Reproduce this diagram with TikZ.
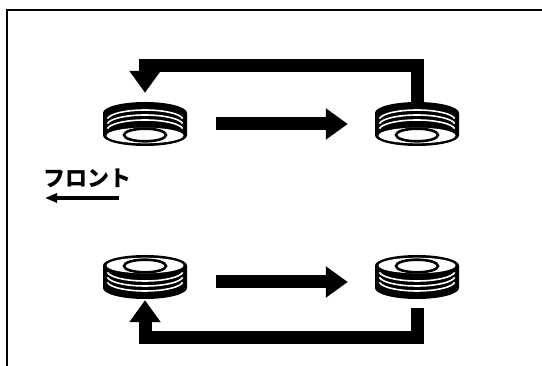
\documentclass[tikz,border=0pt]{standalone}
\usepackage{fontspec}
\newfontfamily\jpfont{Noto Sans CJK JP}
\usetikzlibrary{positioning,arrows.meta}
\tikzset{
  tirebox/.style={rectangle,minimum width=84pt,minimum height=44pt,inner sep=0},
  rot/.style={-{Triangle[length=22pt,width=30pt]},line width=13pt},
  thinarr/.style={-{Triangle[length=12pt,width=9pt]},line width=3.4pt},
  front/.style={font=\jpfont\bfseries\fontsize{22}{22}\selectfont,inner sep=0},
  frame/.style={line width=1.5pt},
  tire/.pic={
    % tread block
    \fill (-42,11.5) -- (-42,-11) arc (180:360:42 and 11) -- (42,11.5) arc (0:180:42 and 10.5) -- cycle;
    % grooves
    \foreach \d in {5.5,10.5,15.5}
      \draw[white,line width=1.6pt] (0,11.5-\d) ++(188:38 and 10) arc (188:352:38 and 10);
    % face and hub
    \fill[white] (0,11.5) ellipse (38.5 and 7.8);
    \draw[line width=2.6pt] (0,11) ellipse (21 and 6.3);
  }
}

\begin{document}
\begin{tikzpicture}[x=1pt,y=1pt]
\useasboundingbox (0,0) rectangle (542,366);
\draw[frame] (7,0) |- (542,356);
% tires
\node[tirebox] (ftop) at (145,242) {};
\node[tirebox] (rtop) at (417,242) {};
\node[tirebox] (fbot) at (145,89) {};
\node[tirebox] (rbot) at (417,89) {};
\pic[yscale=-1] at (ftop) {tire};
\pic[yscale=-1] at (rtop) {tire};
\pic at (fbot) {tire};
\pic at (rbot) {tire};
% rotation
\draw[rot,shorten <=29pt,shorten >=27pt] (ftop.east) -- (rtop.west);
\draw[rot,shorten <=29pt,shorten >=27pt] ([yshift=-5pt]fbot.east) -- ([yshift=-5pt]rbot.west);
\draw[rot,shorten >=9pt] (rtop.north) -- ++(0,36) -| (ftop.north);
\draw[rot,shorten <=9pt,shorten >=1pt] (rbot.south) -- ++(0,-38) -| (fbot.south);
% direction of travel
\node[front] (frontlbl) at (88,188) {フロント};
\coordinate (fa) at (119,168);
\coordinate (fb) at (45,168);
\draw[thinarr] (fa) -- (fb);
\end{tikzpicture}
\end{document}
